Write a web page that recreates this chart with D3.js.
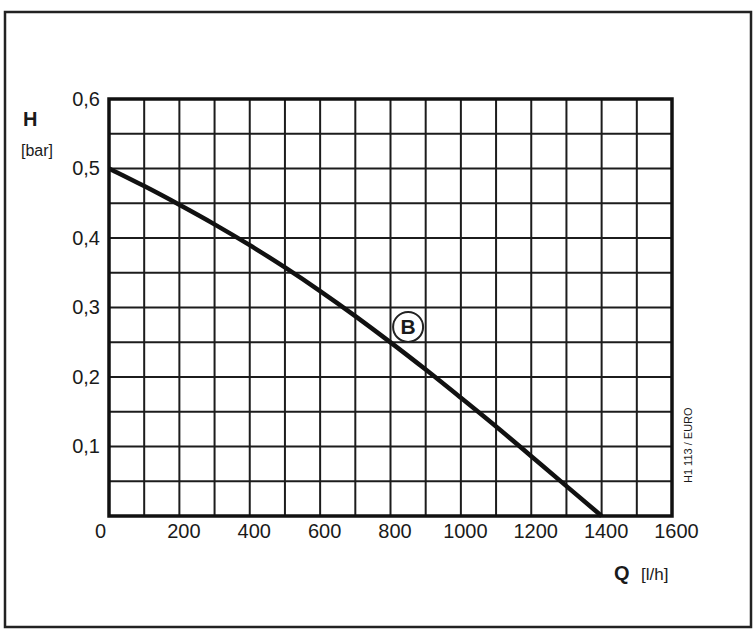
<!DOCTYPE html>
<html>
<head>
<meta charset="utf-8">
<script src="https://cdn.jsdelivr.net/npm/d3@7"></script>
<style>
body { margin: 0; background: #fff; }
text { font-family: "Liberation Sans", Arial, sans-serif; fill: #1a1a1a; }
</style>
</head>
<body>
<svg id="chart" width="753" height="631"></svg>
<script>
// pump curve B
var flowQ = [0, 100, 200, 300, 400, 500, 600, 700, 800, 900, 1000, 1100, 1200, 1300, 1400];
var headH = [0.5, 0.475, 0.448, 0.420, 0.390, 0.358, 0.324, 0.288, 0.250, 0.211, 0.170, 0.129, 0.086, 0.043, 0];

var xTicks = [0, 200, 400, 600, 800, 1000, 1200, 1400, 1600];
var yTicks = [0.1, 0.2, 0.3, 0.4, 0.5, 0.6];
var gridQ = d3.range(0, 1601, 100);
var gridH = d3.range(0, 0.601, 0.05);

var svg = d3.select('#chart');

// outer frame of the sheet
svg.append('rect')
	.attr('x', 5).attr('y', 12).attr('width', 746).attr('height', 615)
	.attr('fill', 'none').attr('stroke', '#222').attr('stroke-width', 2.5);

var x = d3.scaleLinear().domain([0, 1600]).range([109, 672]);
var y = d3.scaleLinear().domain([0, 0.6]).range([516, 99]);

// grid
var grid = svg.append('g').attr('stroke', '#1c1c1c').attr('stroke-width', 2);
grid.selectAll('.vg').data(gridQ).enter().append('line')
	.attr('class', 'vg')
	.attr('x1', function (d) { return x(d); }).attr('x2', function (d) { return x(d); })
	.attr('y1', y(0)).attr('y2', y(0.6));
grid.selectAll('.hg').data(gridH).enter().append('line')
	.attr('class', 'hg')
	.attr('y1', function (d) { return y(d); }).attr('y2', function (d) { return y(d); })
	.attr('x1', x(0)).attr('x2', x(1600));

// heavier frame
svg.append('rect')
	.attr('x', x(0)).attr('y', y(0.6))
	.attr('width', x(1600) - x(0)).attr('height', y(0) - y(0.6))
	.attr('fill', 'none').attr('stroke', '#111').attr('stroke-width', 3.5);

// tick labels through d3 axes, lines hidden
var yAxis = svg.append('g')
	.attr('transform', 'translate(' + x(0) + ',0)')
	.call(d3.axisLeft(y).tickValues(yTicks).tickSize(0).tickPadding(9)
		.tickFormat(function (d) { return d3.format('.1f')(d).replace('.', ','); }));
yAxis.select('.domain').remove();
yAxis.selectAll('text').attr('font-size', 20).attr('font-family', '"Liberation Sans", Arial, sans-serif').attr('fill', '#1a1a1a');

var xAxis = svg.append('g')
	.attr('transform', 'translate(0,' + y(0) + ')')
	.call(d3.axisBottom(x).tickValues(xTicks).tickSize(0).tickPadding(8)
		.tickFormat(function (d) { return d; }));
xAxis.select('.domain').remove();
xAxis.selectAll('text').attr('font-size', 20).attr('font-family', '"Liberation Sans", Arial, sans-serif').attr('fill', '#1a1a1a')
	.attr('dx', function (d) { return d === 0 ? -9 : 4; });

// the curve
var line = d3.line()
	.x(function (d, i) { return x(flowQ[i]); })
	.y(function (d) { return y(d); })
	.curve(d3.curveBasis);

svg.append('path')
	.datum(headH)
	.attr('d', line)
	.attr('fill', 'none').attr('stroke', '#111').attr('stroke-width', 4.5);

// curve marker B
var bq = 850, bh = 0.272;
svg.append('circle')
	.attr('cx', x(bq)).attr('cy', y(bh)).attr('r', 15)
	.attr('fill', '#fff').attr('stroke', '#222').attr('stroke-width', 2);
svg.append('text')
	.attr('x', x(bq)).attr('y', y(bh) + 7)
	.attr('text-anchor', 'middle').attr('font-size', 21).attr('font-weight', 'bold')
	.text('B');

// axis titles
svg.append('text').attr('x', 23).attr('y', 126).attr('font-size', 20).attr('font-weight', 'bold').text('H');
svg.append('text').attr('x', 21).attr('y', 156).attr('font-size', 16).text('[bar]');

svg.append('text').attr('x', 614).attr('y', 580).attr('font-size', 20).attr('font-weight', 'bold').text('Q');
svg.append('text').attr('x', 641).attr('y', 580).attr('font-size', 17).text('[l/h]');

// drawing reference, rotated
svg.append('text')
	.attr('transform', 'translate(692,483) rotate(-90)')
	.attr('font-size', 11)
	.text('H1 113 / EURO');
</script>
</body>
</html>
